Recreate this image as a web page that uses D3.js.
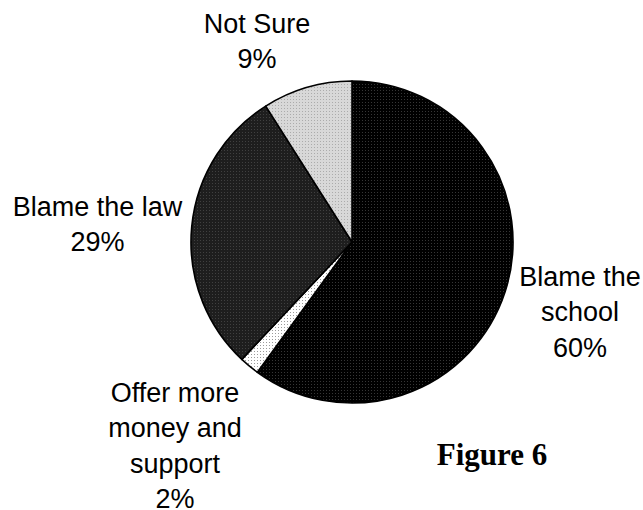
<!DOCTYPE html>
<html>
<head>
<meta charset="utf-8">
<script src="https://cdn.jsdelivr.net/npm/d3@7/dist/d3.min.js"></script>
<style>
  html, body { margin: 0; padding: 0; background: #fff; }
  svg { display: block; }
</style>
</head>
<body>
<div id="chart"></div>
<script>
// ---- data ----
const categories = ["Blame the school", "Offer more money and support", "Blame the law", "Not Sure"];
const values = [60, 2, 29, 9];
const labelLines = [
  ["Blame the", "school", "60%"],
  ["Offer more", "money and", "support", "2%"],
  ["Blame the law", "29%"],
  ["Not Sure", "9%"]
];
const title = "Figure 6";

// ---- layout / style (kept apart from data) ----
const W = 643, H = 510;
const cx = 352, cy = 242, R = 161;
const fills = [
  { base: "#000000", dot: "#363636" },
  { base: "#ffffff", dot: "#9a9a9a" },
  { base: "#1e1e1e", dot: "#404040" },
  { base: "#d8d8d8", dot: "#ababab" }
];
const labelPos = [
  { x: 580, y: 286 },
  { x: 175, y: 402 },
  { x: 97.5, y: 216 },
  { x: 257, y: 33 }
];
const lineH = 35.3;

const svg = d3.select("#chart").append("svg")
  .attr("width", W).attr("height", H);

const defs = svg.append("defs");
fills.forEach((f, i) => {
  const p = defs.append("pattern")
    .attr("id", "pat" + i)
    .attr("patternUnits", "userSpaceOnUse")
    .attr("width", 3).attr("height", 3);
  p.append("rect").attr("width", 3).attr("height", 3).attr("fill", f.base);
  p.append("rect").attr("x", 1).attr("y", 1).attr("width", 1).attr("height", 1).attr("fill", f.dot);
});

const data = categories.map((c, i) => ({ cat: c, value: values[i], idx: i }));

const pie = d3.pie().sort(null).value(d => d.value).startAngle(0).endAngle(2 * Math.PI);
const arc = d3.arc().innerRadius(0).outerRadius(R);

const g = svg.append("g").attr("transform", `translate(${cx},${cy})`);
g.selectAll("path.slice")
  .data(pie(data))
  .join("path")
  .attr("class", "slice")
  .attr("d", arc)
  .attr("fill", d => `url(#pat${d.data.idx})`)
  .attr("stroke", "#000")
  .attr("stroke-width", 1.6)
  .attr("stroke-linejoin", "round");

// labels
data.forEach((d, i) => {
  const t = svg.append("text")
    .attr("text-anchor", "middle")
    .attr("font-family", "'Liberation Sans', Arial, sans-serif")
    .attr("font-size", 27)
    .attr("fill", "#000");
  labelLines[i].forEach((line, j) => {
    t.append("tspan")
      .attr("x", labelPos[i].x)
      .attr("y", labelPos[i].y + j * lineH)
      .text(line);
  });
});

svg.append("text")
  .attr("x", 492).attr("y", 465)
  .attr("text-anchor", "middle")
  .attr("font-family", "'Liberation Serif', 'Times New Roman', serif")
  .attr("font-weight", "bold")
  .attr("font-size", 31)
  .attr("fill", "#000")
  .text(title);
</script>
</body>
</html>
